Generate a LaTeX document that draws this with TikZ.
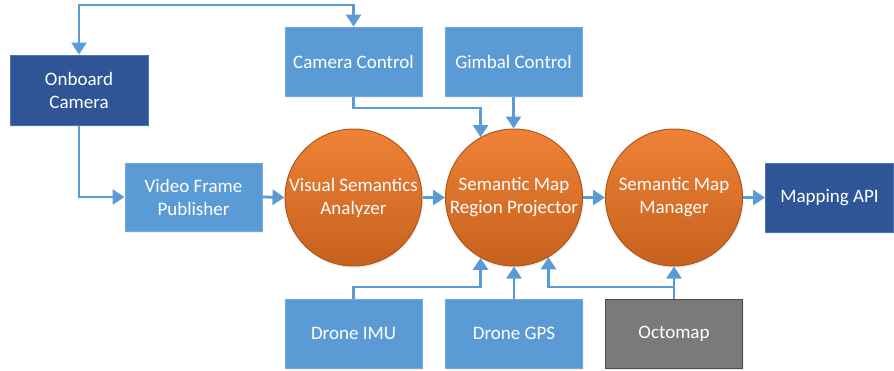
\documentclass[tikz,border=0pt]{standalone}
\usepackage{fontspec}
\setmainfont{Carlito}
\usetikzlibrary{arrows.meta,shadows}
\definecolor{lblue}{HTML}{5B9BD5}
\definecolor{lbluebd}{HTML}{74AADD}
\definecolor{dblue}{HTML}{2F5597}
\definecolor{dbluebd}{HTML}{4A76B0}
\definecolor{otop}{HTML}{EF8236}
\definecolor{obot}{HTML}{C6611E}
\definecolor{obd}{HTML}{B0571B}
\definecolor{grayf}{HTML}{7A7A7A}
\definecolor{graybd}{HTML}{4D4D4D}
\definecolor{conn}{HTML}{5B9BD5}
\tikzset{
  base/.style={text=white, align=center, font=\fontsize{19}{23}\selectfont, inner sep=0pt,
    drop shadow={opacity=0.12, shadow xshift=1pt, shadow yshift=-2pt}},
  lbox/.style={base, rectangle, fill=lblue, draw=lbluebd, line width=1pt, minimum width=137pt, minimum height=69pt},
  dbox/.style={base, rectangle, fill=dblue, draw=dbluebd, line width=1pt, minimum width=137pt, minimum height=69pt},
  gbox/.style={base, rectangle, fill=grayf, draw=graybd, line width=1pt, minimum width=137pt, minimum height=69pt},
  proc/.style={base, circle, top color=otop, bottom color=obot, draw=obd, line width=1pt, minimum size=137pt},
  conn/.style={draw=conn, line width=2.8pt, -{Triangle[width=15pt,length=12pt]}},
  connboth/.style={draw=conn, line width=2.8pt, {Triangle[width=15pt,length=12pt]}-{Triangle[width=15pt,length=12pt]}},
}
\begin{document}
\begin{tikzpicture}[x=1pt,y=-1pt]
\useasboundingbox (0,0) rectangle (894,370);
\node[dbox, minimum width=138pt, minimum height=70pt] (cam) at (79,90) {Onboard\\Camera};
\node[lbox] (cc) at (353.5,61.5) {Camera Control};
\node[lbox] (gc) at (513.5,61.5) {Gimbal Control};
\node[lbox, minimum height=68pt] (pub) at (193.5,197) {Video Frame\\Publisher};
\node[proc] (ana) at (353.5,197.5) {Visual Semantics\\Analyzer};
\node[proc] (proj) at (514,197.5) {Semantic Map\\Region Projector};
\node[proc] (man) at (674,197.5) {Semantic Map\\Manager};
\node[dbox, minimum width=128pt] (api) at (829.5,197.5) {Mapping API};
\node[lbox] (imu) at (353.5,333.5) {Drone IMU};
\node[lbox] (gps) at (514,333.5) {Drone GPS};
\node[gbox] (oct) at (674,333.5) {Octomap};
\coordinate (top) at (79,5);
\coordinate (ccbend) at (353.5,108);
\coordinate (bot) at (353.5,287);
\coordinate (octj) at (674,287);
% connectors
\draw[connboth] (cam.north) -- (top) -| (cc.north);
\draw[conn] (cam.south) |- (pub.west);
\draw[conn] (pub.east) -- (ana.west);
\draw[conn] (ana.east) -- (proj.west);
\draw[conn] (proj.east) -- (man.west);
\draw[conn] (man.east) -- (api.west);
\draw[conn] (cc.south) -- (ccbend) -| (proj.119);
\draw[conn] (gc.south) -- (gc.south |- proj.north);
\draw[conn] (imu.north) -- (bot) -| (proj.241);
\draw[conn] (gps.north) -- (proj.south);
\draw[conn] (oct.north) -- (man.south);
\draw[conn] (octj) -| (proj.300);
\end{tikzpicture}
\end{document}
